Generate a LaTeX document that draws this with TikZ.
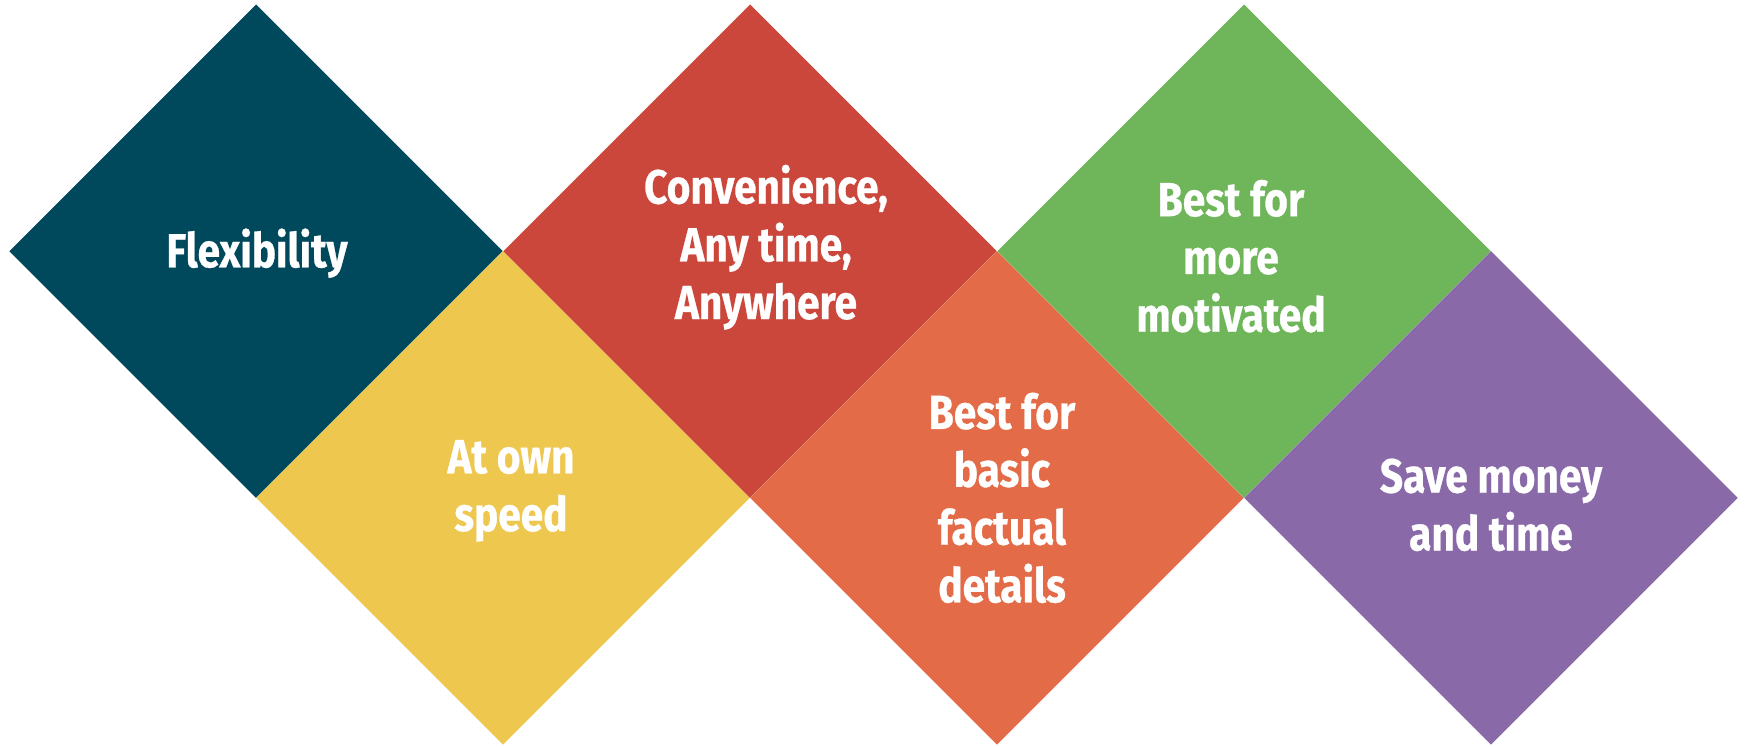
\documentclass[tikz,border=0pt]{standalone}
\usepackage{fontspec}
\setmainfont{Fira Sans}[UprightFont=* Bold, FakeStretch=0.85, FakeBold=0.6]
\definecolor{cteal}{RGB}{0,72,92}
\definecolor{cyellow}{RGB}{238,199,79}
\definecolor{cred}{RGB}{203,70,59}
\definecolor{corange}{RGB}{228,107,71}
\definecolor{cgreen}{RGB}{111,182,90}
\definecolor{cpurple}{RGB}{138,105,169}
\tikzset{
  dia/.style={fill=#1, draw=none},
  lbl/.style={text=white, align=center, font=\fontsize{48}{58}\selectfont, inner sep=0pt}
}
\begin{document}
\begin{tikzpicture}[x=1bp,y=-1bp]
\useasboundingbox (0,0) rectangle (1750,747);
\def\h{246.7}
\foreach \cx/\cy/\col/\nm in {256/251.2/cteal/a, 503/497.9/cyellow/b, 750/251.2/cred/c, 997/497.9/corange/d, 1244/251.2/cgreen/e, 1491/497.9/cpurple/f}{
  \fill[dia=\col] (\cx-\h,\cy) -- (\cx,\cy-\h) -- (\cx+\h,\cy) -- (\cx,\cy+\h) -- cycle;
  \coordinate (\nm) at (\cx,\cy);
}
\node[lbl] (ta) at ([xshift=1bp,yshift=-2bp]a) {Flexibility};
\node[lbl] (tb) at ([xshift=8bp,yshift=7bp]b) {At own\\speed};
\node[lbl] (tc) at ([xshift=16bp,yshift=4bp]c) {Convenience,\\Any time,\\Anywhere};
\node[lbl] (td) at ([xshift=5bp,yshift=0bp]d) {Best for\\basic\\factual\\details};
\node[lbl] (te) at ([xshift=-13bp,yshift=-5bp]e) {Best for\\more\\motivated};
\node[lbl] (tf) at ([yshift=-7bp]f) {Save money\\and time};
\end{tikzpicture}
\end{document}
